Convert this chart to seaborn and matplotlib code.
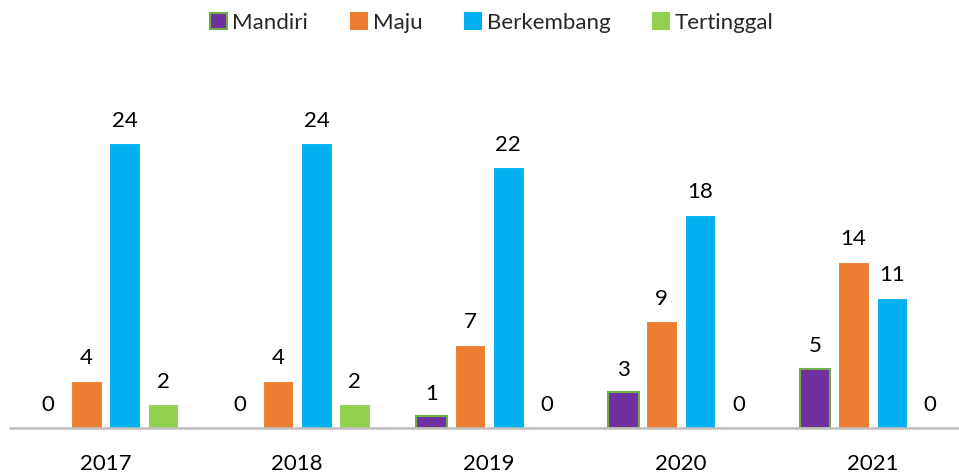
import matplotlib
matplotlib.use("Agg")
import pandas as pd
import matplotlib.pyplot as plt
import seaborn as sns
from matplotlib.patches import Patch

years = ["2017", "2018", "2019", "2020", "2021"]
series = ["Mandiri", "Maju", "Berkembang", "Tertinggal"]
mandiri = [0, 0, 1, 3, 5]
maju = [4, 4, 7, 9, 14]
berkembang = [24, 24, 22, 18, 11]
tertinggal = [2, 2, 0, 0, 0]

colors = ["#7030A0", "#ED7D31", "#00B0F0", "#92D050"]
edges = ["#70AD47", "white", "white", "white"]

rows = []
for name, vals in zip(series, [mandiri, maju, berkembang, tertinggal]):
    for y, v in zip(years, vals):
        rows.append({"Tahun": y, "Status": name, "Jumlah": v})
df = pd.DataFrame(rows)

sns.set_theme(style="white")
plt.rcParams["font.family"] = ["Lato", "DejaVu Sans"]

fig = plt.figure(figsize=(9.59, 4.75), dpi=100)
ax = fig.add_axes([0.01, 0.099, 1.0, 0.749])

sns.barplot(data=df, x="Tahun", y="Jumlah", hue="Status", hue_order=series,
            order=years, palette=colors, saturation=1, width=0.8, gap=0.2,
            ax=ax, legend=False, errorbar=None)

for cont, ec in zip(ax.containers, edges):
    for bar in cont:
        if bar.get_height() == 0:
            bar.set_linewidth(0)
        else:
            bar.set_edgecolor(ec)
            bar.set_linewidth(1.5 if ec != "white" else 0.8)
    ax.bar_label(cont, fmt="%d", padding=9, fontsize=16, color="#000000")

ax.set_ylim(0, 30)
ax.set_xlim(-0.5, 4.5)
ax.set_xlabel("")
ax.set_ylabel("")
ax.set_yticks([])
ax.tick_params(axis="x", length=0, pad=19, labelsize=16, labelcolor="#000000")
for s in ["top", "right", "left"]:
    ax.spines[s].set_visible(False)
ax.spines["bottom"].set_color("#BFBFBF")
ax.spines["bottom"].set_linewidth(1.8)

handles = [Patch(facecolor=c, edgecolor=e if e != "white" else c, linewidth=1.5)
           for c, e in zip(colors, edges)]
fig.legend(handles, series, loc="upper center", bbox_to_anchor=(0.513, 1.015),
           ncol=4, frameon=False, fontsize=16, handlelength=0.75,
           handleheight=0.75, handletextpad=0.25, columnspacing=1.9)

plt.savefig("out.png", dpi=100)
